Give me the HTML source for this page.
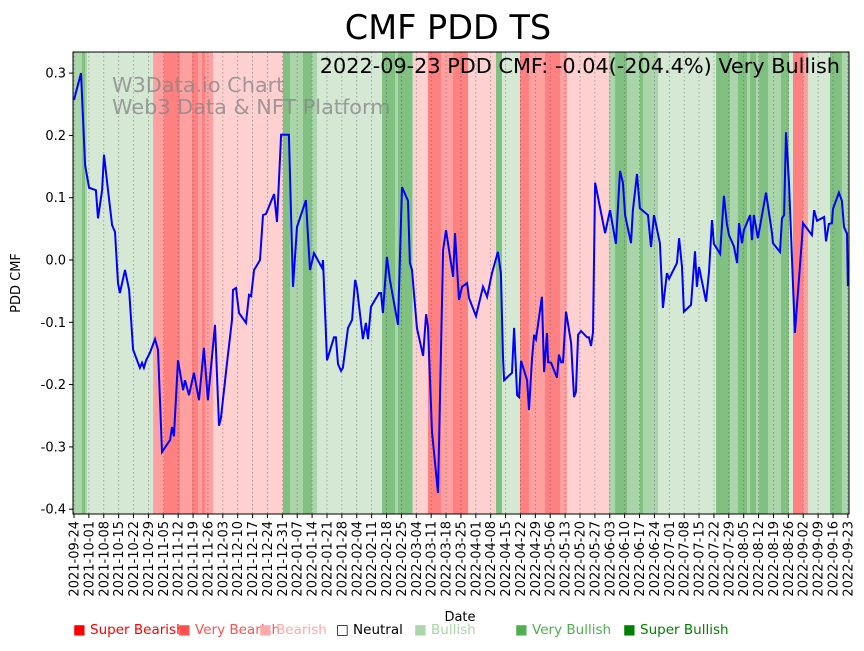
<!DOCTYPE html>
<html><head><meta charset="utf-8"><style>
body{margin:0;background:#fff;width:864px;height:646px;overflow:hidden;font-family:"Liberation Sans","DejaVu Sans",sans-serif}
svg text{font-family:"DejaVu Sans","Liberation Sans",sans-serif}
</style></head><body>
<svg id="chart" width="864" height="646" xmlns="http://www.w3.org/2000/svg">
<text x="448" y="39" font-size="33.5" text-anchor="middle">CMF PDD TS</text>
<g id="bands"></g><g id="grid"></g>
<g fill="#888" fill-opacity="0.8" font-size="20.8">
<text x="112" y="92">W3Data.io Chart</text><text x="112" y="114">Web3 Data &amp; NFT Platform</text></g>
<path id="line" fill="none" stroke="#0000ff" stroke-width="2"/>
<text x="840" y="73" font-size="20.8" text-anchor="end">2022-09-23 PDD CMF: -0.04(-204.4%) Very Bullish</text>
<rect x="73" y="52" width="776" height="462" fill="none" stroke="#000" stroke-width="1"/>
<g id="yaxis"></g><g id="xaxis"></g>
<text transform="translate(20,283) rotate(-90)" font-size="13" text-anchor="middle">PDD CMF</text>
<text x="460" y="621" font-size="13" text-anchor="middle">Date</text>
<g font-size="13.5">
<text x="73" y="634" fill="#ff0000">■ Super Bearish</text>
<text x="178" y="634" fill="#ff5050">■ Very Bearish</text>
<text x="259" y="634" fill="#ffaaaa">■ Bearish</text>
<text x="336" y="634" fill="#000">□ Neutral</text>
<text x="414" y="634" fill="#aad5a9">■ Bullish</text>
<text x="515" y="634" fill="#50b050">■ Very Bullish</text>
<text x="623" y="634" fill="#008000">■ Super Bullish</text>
</g>
</svg>
<script>
const days=[0,3.3,5.2,7.1,10.3,11.3,13.2,14.1,16,17.9,19.3,20.7,21.6,24,25.9,27.8,31,32,32.9,33.9,35.7,38.1,39.5,41.4,45.2,46.1,47,48.9,51.3,52.2,54.1,56.4,58.8,61.1,63,66.3,68.2,69.1,72,74.3,74.8,76.2,77.6,80.9,82.3,83.3,84.7,87.5,88.9,90.3,94.1,95.5,97.4,101.1,103,104.9,109.1,111,112.9,116.7,117.1,119,122.3,123.2,124.2,125.6,126.5,128.9,130.8,132.2,133.1,135.9,137.3,138.3,139.7,143.5,144.4,145.3,147.2,148.6,152.4,154.3,157.1,158,159,161.3,164.2,165.6,166.5,168.4,171.2,173.6,175,178.3,179.2,181.1,182.5,184.9,185.8,189.1,192.4,194.3,196.6,199.4,200.8,201.8,202.3,206,207,208.4,209.3,210.3,213.1,214,215.4,216.4,217.3,220.1,221.1,222.5,223,224.4,227.2,228.1,229.1,230,231.4,233.8,235.2,236.1,237.1,238.5,241.3,242.2,243.2,244.1,245.1,249.8,252.1,254.9,256.8,258.2,259.2,262,262.9,264.8,266.2,270,271.4,272.8,275.6,277,278.9,279.9,283.6,284.6,286,286.9,290.2,292.1,293,294,297.3,298.7,300.1,301,303.9,305.7,307.1,308.1,310.4,311.9,312.8,314.2,315.1,318,318.9,319.8,321.7,325.5,328.3,328.8,332.1,333,334,334.9,336.3,339.1,342.4,342.9,347.1,348.1,349.5,352.8,353.7,355.1,356.5,357,359.8,361.2,362.2,363.6,364];
const cmf=[.257,.300,.152,.116,.112,.067,.112,.169,.112,.056,.045,-.037,-.053,-.016,-.048,-.144,-.173,-.165,-.173,-.161,-.149,-.127,-.144,-.308,-.289,-.268,-.283,-.161,-.209,-.193,-.217,-.181,-.225,-.141,-.225,-.104,-.266,-.254,-.164,-.096,-.048,-.045,-.085,-.101,-.056,-.058,-.016,0,.072,.074,.106,.061,.201,.201,-.043,.053,.096,-.016,.011,-.013,0,-.161,-.124,-.124,-.167,-.178,-.173,-.109,-.096,-.032,-.045,-.127,-.101,-.127,-.075,-.053,-.053,-.085,.005,-.032,-.104,.117,.095,-.005,-.016,-.109,-.154,-.087,-.108,-.276,-.374,.016,.048,-.027,.043,-.064,-.043,-.037,-.061,-.090,-.043,-.059,-.021,.013,-.021,-.156,-.193,-.181,-.109,-.217,-.220,-.162,-.193,-.241,-.161,-.120,-.127,-.059,-.180,-.117,-.164,-.165,-.189,-.152,-.164,-.164,-.083,-.133,-.220,-.212,-.120,-.114,-.124,-.124,-.138,-.116,.124,.043,.080,.026,.143,.124,.072,.027,.080,.138,.083,.072,.021,.072,.027,-.077,-.021,-.030,-.005,.035,-.011,-.083,-.072,.014,-.043,-.011,-.067,-.019,.064,.026,.010,.103,.058,.040,.022,-.005,.059,.027,.048,.072,.032,.072,.035,.108,.043,.027,.013,.067,.072,.205,.124,-.117,.032,.059,.040,.080,.063,.069,.030,.058,.059,.082,.108,.095,.053,.042,-.042];
const bandStart=[-0.5,3.8,5.2,6.1,37.2,42.3,49.9,55.5,58.3,60.2,61.6,65.4,98.3,101.6,107.7,111.9,114.3,144.9,151,152.4,159,159.5,166.5,172.6,178.3,185.3,198.5,201.3,209.8,214,221.5,228.6,231.9,251.6,254.5,260.1,266.2,267.6,274.7,302,308.5,312.3,316.6,318,320.8,322.2,326.5,332.6,336.3,338.2,342.9,345.3,355.6,361.2];
const bandLevel=['mg','dg','mg','pg','mp','rp','mp','rp','mp','rp','mp','lp','dg','mg','dg','mg','pg','dg','mg','dg','mg','lp','rp','mp','rp','lp','dg','pg','rp','mp','rp','mp','lp','mg','dg','mg','dg','mg','pg','dg','mg','dg','mg','dg','mg','dg','mg','dg','pg','rp','mp','pg','dg','mg'];
const yTicks=[0.3,0.2,0.1,0.0,-0.1,-0.2,-0.3,-0.4];
const startDate=new Date(Date.UTC(2021,8,24));
const NS='http://www.w3.org/2000/svg';
const X0=74,PX=2.126,Y0=260,PY=623,LEFT=73,RIGHT=849,TOP=52,BOT=514;
const xs=d=>X0+d*PX, ys=v=>Y0-v*PY;
const col={pg:'#d5e8d4',mg:'#aad4a9',dg:'#80c080',lp:'#ffd0d0',mp:'#ffa0a0',rp:'#ff8080'};
function mk(t,a,p){const e=document.createElementNS(NS,t);for(const k in a)e.setAttribute(k,a[k]);p.appendChild(e);return e;}
const bg=document.getElementById('bands');
for(let i=0;i<bandStart.length;i++){
  const s=Math.max(LEFT,xs(bandStart[i])), e=i+1<bandStart.length?xs(bandStart[i+1]):RIGHT;
  const r=mk('rect',{x:s,y:TOP,width:Math.min(e,RIGHT)-s+0.3,height:BOT-TOP,fill:col[bandLevel[i]]},bg);
  
  
}
const grid=document.getElementById('grid'),xa=document.getElementById('xaxis');
for(let w=0;w<=52;w++){
  const d=w*7,x=xs(d);
  const g=mk('line',{x1:x,x2:x,y1:TOP,y2:BOT,stroke:'#555','stroke-width':0.8,'stroke-dasharray':'1.5,2.5','stroke-opacity':0.55},grid);
  
  
  const t=mk('line',{x1:x,x2:x,y1:BOT,y2:BOT+4,stroke:'#000'},xa);
  
  
  const dt=new Date(startDate.getTime()+d*86400000);
  const lab=mk('text',{transform:`translate(${x+4.5},${BOT+7}) rotate(-90)`,'font-size':13,'text-anchor':'end'},xa);
  lab.textContent=dt.toISOString().slice(0,10);
  
  
}
const ya=document.getElementById('yaxis');
yTicks.forEach(v=>{
  const y=ys(v);
  const t=mk('line',{x1:LEFT-4,x2:LEFT,y1:y,y2:y,stroke:'#000'},ya);
  
  
  const l=mk('text',{x:LEFT-7,y:y+4.5,'font-size':13,'text-anchor':'end'},ya);
  l.textContent=v.toFixed(1);
  
  
});
document.getElementById('line').setAttribute('d',days.map((d,i)=>(i?'L':'M')+xs(d).toFixed(1)+','+ys(cmf[i]).toFixed(1)).join(''));
</script>
</body></html>
